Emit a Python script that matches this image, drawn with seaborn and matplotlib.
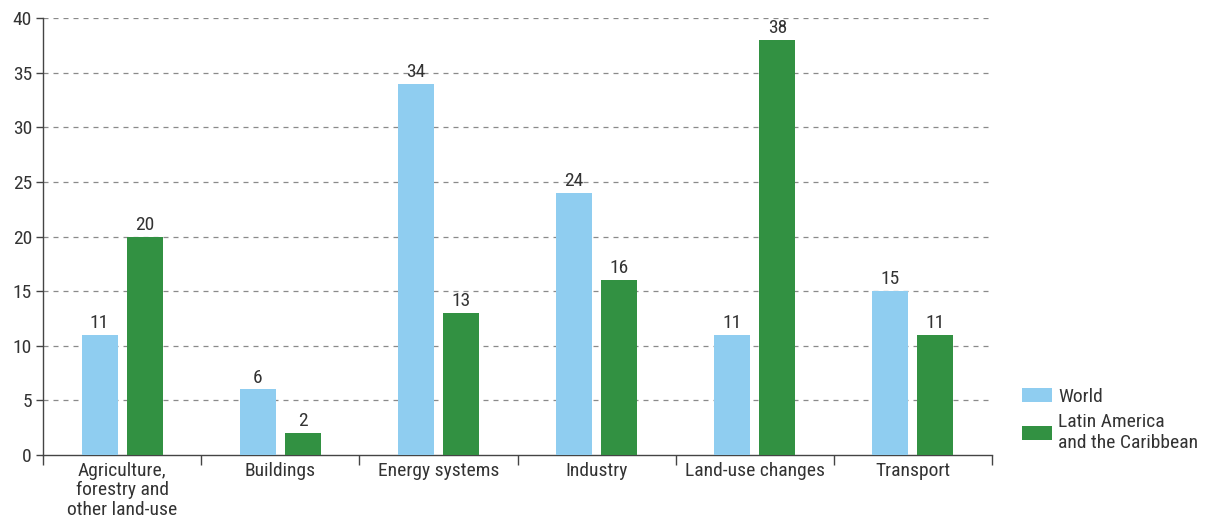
import matplotlib
matplotlib.use("Agg")
import matplotlib.pyplot as plt
from matplotlib import font_manager
from matplotlib.patches import Patch
from matplotlib.ticker import FixedLocator, MultipleLocator
import seaborn as sns
import pandas as pd

categories = ["Agriculture,\nforestry and\nother land-use", "Buildings", "Energy systems",
              "Industry", "Land-use changes", "Transport"]
world = [11, 6, 34, 24, 11, 15]
lac = [20, 2, 13, 16, 38, 11]
series_names = ["World", "Latin America\nand the Caribbean"]
colors = ["#8FCDF0", "#329142"]

sns.set_theme(style="white")
names = {f.name for f in font_manager.fontManager.ttflist}
fam = "DejaVu Sans"
for cand in ["Roboto Condensed", "Liberation Sans Narrow", "Roboto", "Liberation Sans"]:
    if cand in names:
        fam = cand
        break
plt.rcParams["font.family"] = [fam, "DejaVu Sans"]
txt = "#333333"
fs = 14

df = pd.DataFrame({
    "category": categories * 2,
    "value": world + lac,
    "series": [series_names[0]] * len(categories) + [series_names[1]] * len(categories),
})

fig = plt.figure(figsize=(12.09, 5.25), dpi=100)
ax = fig.add_axes([43 / 1209, 70 / 525, (992 - 43) / 1209, (455 - 18) / 525])
sns.barplot(data=df, x="category", y="value", hue="series", order=categories,
            hue_order=series_names, palette=colors, width=0.57, gap=0.2,
            saturation=1, legend=False, ax=ax, zorder=3, linewidth=0, edgecolor="none")

for cont in ax.containers:
    ax.bar_label(cont, fmt="%d", padding=2, fontsize=fs, color=txt)

ax.set_ylim(0, 40)
ax.set_xlim(-0.5, len(categories) - 0.5)
ax.yaxis.set_major_locator(MultipleLocator(5))
ax.set_xlabel("")
ax.set_ylabel("")
for s in ["top", "right"]:
    ax.spines[s].set_visible(False)
for s in ["left", "bottom"]:
    ax.spines[s].set_color("#444444")
    ax.spines[s].set_linewidth(1.0)
ax.grid(False)
for y in range(5, 41, 5):
    ax.axhline(y, color="#8a8a8a", lw=0.9, ls=(0, (4, 4)), zorder=1)

ax.tick_params(axis="y", which="major", direction="out", length=5, width=1, color="#444444",
               labelsize=fs, labelcolor=txt, pad=3, left=True)
ax.tick_params(axis="x", which="major", length=0, labelsize=fs, labelcolor=txt, pad=5)
ax.xaxis.set_minor_locator(FixedLocator([i - 0.5 for i in range(len(categories) + 1)]))
ax.tick_params(axis="x", which="minor", direction="out", length=7, width=1, color="#444444", bottom=True)
for lab in ax.get_xticklabels():
    lab.set_linespacing(1.1)
    lab.set_verticalalignment("top")

handles = [Patch(facecolor=c, edgecolor="none") for c in colors]
fig.legend(handles, series_names, loc="upper left", bbox_to_anchor=(1004 / 1209, 1 - 370 / 525),
           frameon=False, fontsize=fs, labelcolor=txt, handlelength=1.55, handleheight=0.72,
           handletextpad=0.35, labelspacing=0.4)

fig.savefig("out.png", dpi=100)
